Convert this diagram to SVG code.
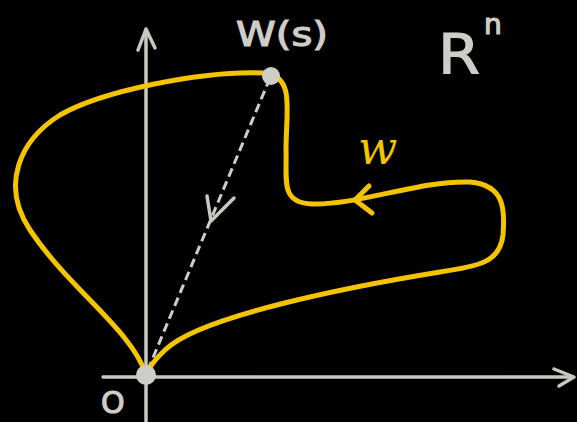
<svg xmlns="http://www.w3.org/2000/svg" width="577" height="422" viewBox="0 0 577 422">
<style>
.ax{stroke:#c9c7c1;stroke-width:3.5;fill:none;stroke-linecap:round;stroke-linejoin:round}
.cv{stroke:#f5c400;stroke-width:5;fill:none;stroke-linecap:round;stroke-linejoin:round}
.gt{fill:#cfcdc7;stroke:#cfcdc7;stroke-width:1.2;font-family:"DejaVu Sans","Liberation Sans",sans-serif}
</style>
<rect width="577" height="422" fill="#000"/>
<g id="axes">
<path class="ax" d="M146,421 L146,30"/>
<path class="ax" d="M138,50 L146,29 L155,48"/>
<path class="ax" d="M103,377 L573,377"/>
<path class="ax" d="M554,369 L574,377 L559,386"/>
</g>
<g id="connectors">
<path d="M270,78 L147,372" stroke="#cfcdc7" stroke-width="3" stroke-dasharray="9,5" fill="none"/>
<path class="ax" d="M207,196 L211,221 L234,198" stroke-width="3"/>
</g>
<g id="curve">
<path class="cv" d="M146,375 C132,330 70,290 30,230 C0,185 20,140 60,115 C100,92 200,70 266,73 C295,78 286,110 286,150 C287,180 280,203 312,204 C360,205 420,180 470,182 C505,185 505,210 503,235 C500,262 480,266 440,272 C360,285 200,315 165,350 C152,362 148,370 146,375"/>
<path class="cv" d="M369,186 L355,200 L372,213"/>
</g>
<g id="origin"><circle cx="146" cy="375" r="10" fill="#cfcdc7"/></g>
<g id="ws"><circle cx="271" cy="76" r="9" fill="#cfcdc7"/></g>
<text class="gt" x="236" y="46" font-size="34" textLength="92" lengthAdjust="spacingAndGlyphs">W(s)</text>
<text class="gt" x="438" y="73" font-size="56" textLength="42" lengthAdjust="spacingAndGlyphs">R</text>
<text class="gt" x="484" y="34" font-size="28">n</text>
<text x="358" y="164" font-size="46" font-style="italic" fill="#f5c400" font-family="'DejaVu Serif',serif">w</text>
<text class="gt" x="101" y="413" font-size="30">O</text>
</svg>
